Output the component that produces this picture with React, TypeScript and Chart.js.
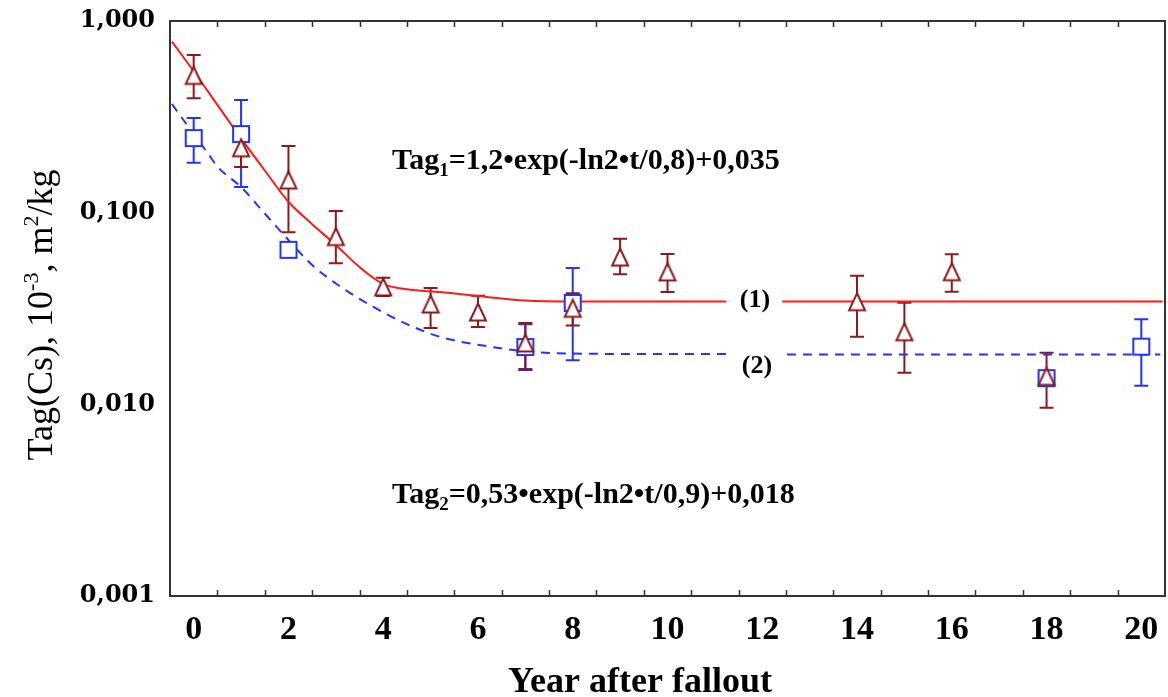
import React, { useEffect, useRef } from 'react';
import { Chart, registerables } from 'chart.js';
Chart.register(...registerables);

// ---- axis ticks ----
const xTickValues = [0, 2, 4, 6, 8, 10, 12, 14, 16, 18, 20];
const xTickLabels = ['0', '2', '4', '6', '8', '10', '12', '14', '16', '18', '20'];
const xMinorTicks = [0.5, 1.5, 2.5, 3.5, 4.5, 5.5, 6.5, 7.5, 8.5, 9.5, 10.5, 11.5, 12.5, 13.5, 14.5, 15.5, 16.5, 17.5, 18.5, 19.5];
const yTickValues = [0.001, 0.01, 0.1, 1];
const yTickLabels = ['0,001', '0,010', '0,100', '1,000'];

// ---- series (1): triangles ----
const triX = [0, 1, 2, 3, 4, 5, 6, 7, 8, 9, 10, 14, 15, 16, 18];
const triY = [0.52, 0.218, 0.148, 0.075, 0.041, 0.0334, 0.0303, 0.0209, 0.0317, 0.0587, 0.0491, 0.0343, 0.0239, 0.0492, 0.014];
const triHi = [0.665, 0.264, 0.223, 0.102, 0.0458, 0.0405, 0.0369, 0.0266, 0.038, 0.073, 0.0608, 0.0469, 0.0339, 0.0607, 0.0186];
const triLo = [0.395, 0.173, 0.079, 0.0545, 0.0368, 0.025, 0.0253, 0.0151, 0.0258, 0.0477, 0.0385, 0.0225, 0.0146, 0.0387, 0.0096];

// ---- series (2): squares ----
const sqX = [0, 1, 2, 7, 8, 18, 20];
const sqY = [0.245, 0.257, 0.064, 0.0199, 0.0338, 0.0137, 0.02];
const sqHi = [0.312, 0.387, 0.067, 0.0262, 0.0515, 0.0142, 0.0278];
const sqLo = [0.182, 0.136, 0.061, 0.0153, 0.017, 0.0132, 0.0125];

// ---- fitted curves ----
const fit1X = [-0.46, 0, 0.5, 1, 1.5, 2, 2.5, 3, 3.5, 4, 4.5, 5.2, 6, 7, 8, 9, 10, 11.24, 11.8, 12.42, 14, 16, 18, 20, 20.45];
const fit1Y = [0.78, 0.547, 0.365, 0.244, 0.166, 0.114, 0.087, 0.0679, 0.052, 0.0425, 0.0398, 0.0385, 0.0367, 0.0348, 0.0344, 0.0344, 0.0344, 0.0344, null, 0.0344, 0.0344, 0.0344, 0.0344, 0.0344, 0.0344];
const fit2X = [-0.46, 0, 0.3, 0.5, 1, 1.5, 2, 2.5, 3, 3.5, 4, 4.5, 5.2, 6.3, 7, 8, 10, 11.26, 11.9, 12.52, 14, 16, 18, 20, 20.4];
const fit2Y = [0.369, 0.257, 0.204, 0.174, 0.136, 0.099, 0.072, 0.0533, 0.0427, 0.0355, 0.0302, 0.0262, 0.0225, 0.0199, 0.0189, 0.0184, 0.0183, 0.0183, null, 0.0182, 0.0182, 0.0182, 0.0182, 0.0182, 0.0182];

const MAROON = '#8b1a1a';
const BLUE = '#2233ff';
const RED = '#ff1a1a';
const FRAME = '#333333';
const SERIF = "'Liberation Serif', 'Times New Roman', serif";
const PLOT_RIGHT = 1165;

function makeTriangle(): HTMLCanvasElement {
  const c = document.createElement('canvas');
  c.width = 20; c.height = 22;
  const g = c.getContext('2d')!;
  g.beginPath();
  g.moveTo(10, 2.5);
  g.lineTo(18, 19.5);
  g.lineTo(2, 19.5);
  g.closePath();
  g.fillStyle = '#fff';
  g.fill();
  g.strokeStyle = MAROON;
  g.lineWidth = 2;
  g.stroke();
  return c;
}

function makeSquare(): HTMLCanvasElement {
  const c = document.createElement('canvas');
  c.width = 20; c.height = 20;
  const g = c.getContext('2d')!;
  g.fillStyle = '#fff';
  g.fillRect(2, 2, 16, 16);
  g.strokeStyle = BLUE;
  g.lineWidth = 2;
  g.strokeRect(2, 2, 16, 16);
  return c;
}

type Run = { t: string; size: number; dy?: number; weight?: string };

function drawRuns(ctx: CanvasRenderingContext2D, runs: Run[], x: number, y: number, align: 'left' | 'center') {
  ctx.textAlign = 'left';
  ctx.textBaseline = 'alphabetic';
  let total = 0;
  const widths = runs.map((r) => {
    ctx.font = `${r.weight ?? 'bold'} ${r.size}px ${SERIF}`;
    const w = ctx.measureText(r.t).width;
    total += w;
    return w;
  });
  let cx = align === 'center' ? x - total / 2 : x;
  runs.forEach((r, i) => {
    ctx.font = `${r.weight ?? 'bold'} ${r.size}px ${SERIF}`;
    ctx.fillText(r.t, cx, y + (r.dy ?? 0));
    cx += widths[i];
  });
}

const areaPlugin = {
  id: 'fixArea',
  afterLayout(chart: any) {
    const xs = chart.scales.x;
    xs.right = PLOT_RIGHT;
    xs.width = PLOT_RIGHT - xs.left;
    xs.configure();
    chart.chartArea.right = PLOT_RIGHT;
    chart.chartArea.width = PLOT_RIGHT - chart.chartArea.left;
  },
};

const errorBarPlugin = {
  id: 'errorBars',
  beforeDatasetsDraw(chart: any) {
    const { ctx, scales } = chart;
    const xs = scales.x, ys = scales.y;
    const drawSet = (X: number[], hi: number[], lo: number[], color: string) => {
      ctx.save();
      ctx.strokeStyle = color;
      ctx.lineWidth = 2;
      X.forEach((v, i) => {
        const px = xs.getPixelForValue(v);
        const ph = ys.getPixelForValue(hi[i]);
        const pl = ys.getPixelForValue(lo[i]);
        ctx.beginPath();
        ctx.moveTo(px, ph); ctx.lineTo(px, pl);
        ctx.moveTo(px - 7, ph); ctx.lineTo(px + 7, ph);
        ctx.moveTo(px - 7, pl); ctx.lineTo(px + 7, pl);
        ctx.stroke();
      });
      ctx.restore();
    };
    drawSet(sqX, sqHi, sqLo, BLUE);
    drawSet(triX, triHi, triLo, MAROON);
  },
};

const framePlugin = {
  id: 'frame',
  afterDatasetsDraw(chart: any) {
    const { ctx, chartArea: a, scales } = chart;
    ctx.save();
    ctx.strokeStyle = FRAME;
    ctx.lineWidth = 2;
    ctx.strokeRect(a.left, a.top, a.right - a.left, a.bottom - a.top);
    ctx.lineWidth = 1.5;
    ctx.beginPath();
    xMinorTicks.forEach((v) => {
      const px = Math.round(scales.x.getPixelForValue(v)) + 0.5;
      ctx.moveTo(px, a.bottom); ctx.lineTo(px, a.bottom - 6);
      ctx.moveTo(px, a.top); ctx.lineTo(px, a.top + 6);
    });
    ctx.stroke();
    // x tick labels
    ctx.fillStyle = '#000';
    ctx.font = `bold 34px ${SERIF}`;
    ctx.textAlign = 'center';
    ctx.textBaseline = 'middle';
    xTickValues.forEach((v, i) => {
      ctx.fillText(xTickLabels[i], scales.x.getPixelForValue(v), a.bottom + 34);
    });
    ctx.restore();
  },
};

const textPlugin = {
  id: 'texts',
  afterDraw(chart: any) {
    const { ctx } = chart;
    ctx.save();
    ctx.fillStyle = '#000';
    drawRuns(ctx, [
      { t: 'Tag', size: 30 },
      { t: '1', size: 19, dy: 7 },
      { t: '=1,2\u2022exp(-ln2\u2022t/0,8)+0,035', size: 30 },
    ], 392, 169, 'left');
    drawRuns(ctx, [
      { t: 'Tag', size: 30 },
      { t: '2', size: 19, dy: 7 },
      { t: '=0,53\u2022exp(-ln2\u2022t/0,9)+0,018', size: 30 },
    ], 392, 503, 'left');
    ctx.font = `bold 26px ${SERIF}`;
    ctx.textAlign = 'center';
    ctx.textBaseline = 'middle';
    ctx.fillText('(1)', 755, 300);
    ctx.fillText('(2)', 757, 366);
    // x axis title
    drawRuns(ctx, [{ t: 'Year after fallout', size: 36 }], 640, 692, 'center');
    // y axis title
    ctx.save();
    ctx.translate(40, 315);
    ctx.rotate(-Math.PI / 2);
    drawRuns(ctx, [
      { t: 'Tag(Cs), 10', size: 36, weight: 'normal' },
      { t: '-3', size: 22, dy: -14, weight: 'normal' },
      { t: ', m', size: 36, weight: 'normal' },
      { t: '2', size: 22, dy: -14, weight: 'normal' },
      { t: '/kg', size: 36, weight: 'normal' },
    ], 0, 12, 'center');
    ctx.restore();
    ctx.restore();
  },
};

export default function App() {
  const ref = useRef<HTMLCanvasElement>(null);
  useEffect(() => {
    document.body.style.margin = '0';
    const tri = makeTriangle();
    const sq = makeSquare();
    const chart = new Chart(ref.current as HTMLCanvasElement, {
      type: 'line',
      data: {
        datasets: [
          {
            label: 'tri',
            data: triX.map((x, i) => ({ x, y: triY[i] })),
            showLine: false,
            pointStyle: tri as any,
            pointRadius: 8,
            order: 0,
          },
          {
            label: 'sq',
            data: sqX.map((x, i) => ({ x, y: sqY[i] })),
            showLine: false,
            pointStyle: sq as any,
            pointRadius: 8,
            order: 1,
          },
          {
            label: 'fit1',
            data: fit1X.map((x, i) => ({ x, y: fit1Y[i] as any })),
            borderColor: RED,
            borderWidth: 2,
            pointRadius: 0,
            cubicInterpolationMode: 'monotone',
            spanGaps: false,
            order: 2,
          },
          {
            label: 'fit2',
            data: fit2X.map((x, i) => ({ x, y: fit2Y[i] as any })),
            borderColor: BLUE,
            borderWidth: 2,
            borderDash: [9, 7],
            pointRadius: 0,
            cubicInterpolationMode: 'monotone',
            spanGaps: false,
            order: 3,
          },
        ] as any,
      },
      options: {
        animation: false,
        responsive: false,
        maintainAspectRatio: false,
        devicePixelRatio: 1,
        events: [],
        layout: { padding: { top: 21, right: 3, left: 0, bottom: 0 } },
        plugins: { legend: { display: false }, tooltip: { enabled: false } },
        scales: {
          x: {
            type: 'linear',
            min: -0.5,
            max: 20.5,
            grid: { display: false, drawTicks: false },
            border: { display: false },
            ticks: { display: false },
            afterFit: (s: any) => {
              s.height = 101;
              s.paddingLeft = 0; s.paddingRight = 0; s.paddingTop = 0; s.paddingBottom = 0;
            },
          },
          y: {
            type: 'logarithmic',
            min: 0.001,
            max: 1,
            grid: { display: false, drawTicks: false },
            border: { display: false },
            afterBuildTicks: (s: any) => { s.ticks = yTickValues.map((v) => ({ value: v })); },
            afterFit: (s: any) => {
              s.width = 170;
              s.paddingLeft = 0; s.paddingRight = 0; s.paddingTop = 0; s.paddingBottom = 0;
            },
            ticks: {
              autoSkip: false,
              padding: 15,
              color: '#000',
              font: { family: "'DejaVu Serif', serif", size: 24, weight: 'bold' },
              callback: (v: any) => {
                const i = yTickValues.findIndex((t) => Math.abs(t - Number(v)) < t * 1e-6);
                return i >= 0 ? yTickLabels[i] : '';
              },
            },
          },
        },
      } as any,
      plugins: [areaPlugin, errorBarPlugin, framePlugin, textPlugin],
    });
    return () => chart.destroy();
  }, []);
  return (
    <div style={{ width: 1168, height: 697, position: 'relative' }}>
      <canvas ref={ref} width={1168} height={697} style={{ display: 'block' }} />
    </div>
  );
}
